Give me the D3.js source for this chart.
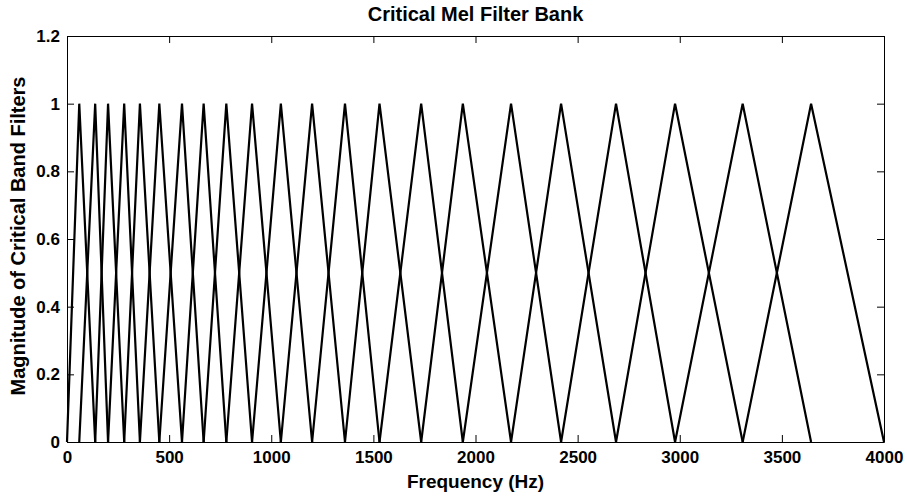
<!DOCTYPE html>
<html>
<head>
<meta charset="utf-8">
<script src="https://cdn.jsdelivr.net/npm/d3@7"></script>
<style>
  body { margin: 0; background: #fff; }
  text { font-family: "Liberation Sans", Arial, sans-serif; font-weight: bold; }
</style>
</head>
<body>
<div id="chart"></div>
<script>
// band edges (Hz): each filter goes 0 -> 1 -> 0 over three neighbouring edges
const bandEdges = [0, 60, 138, 201, 280, 357, 452, 563, 669, 780, 906, 1047,
    1200, 1361, 1530, 1734, 1938, 2174, 2419, 2688, 2977, 3308, 3643, 4000];
const xTicks = [0, 500, 1000, 1500, 2000, 2500, 3000, 3500, 4000];
const yTicks = [0, 0.2, 0.4, 0.6, 0.8, 1, 1.2];

const width = 907, height = 497;
const margin = { top: 36, right: 23, bottom: 55, left: 67 };
const iw = width - margin.left - margin.right;
const ih = height - margin.top - margin.bottom;

const svg = d3.select('#chart').append('svg')
    .attr('width', width)
    .attr('height', height);

const x = d3.scaleLinear().domain([0, 4000]).range([0, iw]);
const y = d3.scaleLinear().domain([0, 1.2]).range([ih, 0]);

const g = svg.append('g').attr('transform', `translate(${margin.left},${margin.top})`);

// triangles
const filters = d3.range(1, bandEdges.length - 1).map(i => [
    [bandEdges[i - 1], 0], [bandEdges[i], 1], [bandEdges[i + 1], 0]
]);
const line = d3.line().x(d => x(d[0])).y(d => y(d[1]));

g.append('g')
    .selectAll('path')
    .data(filters)
    .enter()
    .append('path')
    .attr('d', line)
    .attr('fill', 'none')
    .attr('stroke', '#000')
    .attr('stroke-width', 2.2)
    .attr('stroke-linejoin', 'miter');

// axes, matlab style: ticks inside, on all four sides
const tl = 7;
const axBottom = g.append('g').attr('transform', `translate(0,${ih})`)
    .call(d3.axisBottom(x).tickValues(xTicks).tickSizeInner(-tl).tickSizeOuter(0).tickPadding(9)
        .tickFormat(d3.format('d')));
const axTop = g.append('g')
    .call(d3.axisTop(x).tickValues(xTicks).tickSizeInner(-tl).tickSizeOuter(0).tickFormat(''));
const axLeft = g.append('g')
    .call(d3.axisLeft(y).tickValues(yTicks).tickSizeInner(-tl).tickSizeOuter(0).tickPadding(7)
        .tickFormat(d => d3.format('~g')(d)));
const axRight = g.append('g').attr('transform', `translate(${iw},0)`)
    .call(d3.axisRight(y).tickValues(yTicks).tickSizeInner(-tl).tickSizeOuter(0).tickFormat(''));

[axBottom, axTop, axLeft, axRight].forEach(a => {
    a.selectAll('.domain').attr('stroke', '#000').attr('stroke-width', 1);
    a.selectAll('.tick line').attr('stroke', '#000');
    a.selectAll('text').attr('font-size', 17).attr('fill', '#000')
        .style('font-family', '"Liberation Sans", Arial, sans-serif').style('font-weight', 'bold');
});

// titles
svg.append('text')
    .attr('x', margin.left + iw / 2)
    .attr('y', 21)
    .attr('text-anchor', 'middle')
    .attr('font-size', 20)
    .text('Critical Mel Filter Bank');

svg.append('text')
    .attr('x', margin.left + iw / 2)
    .attr('y', 488)
    .attr('text-anchor', 'middle')
    .attr('font-size', 19)
    .text('Frequency (Hz)');

svg.append('text')
    .attr('transform', `translate(25,${margin.top + ih / 2 - 3}) rotate(-90)`)
    .attr('text-anchor', 'middle')
    .attr('font-size', 20)
    .text('Magnitude of Critical Band Filters');
</script>
</body>
</html>
